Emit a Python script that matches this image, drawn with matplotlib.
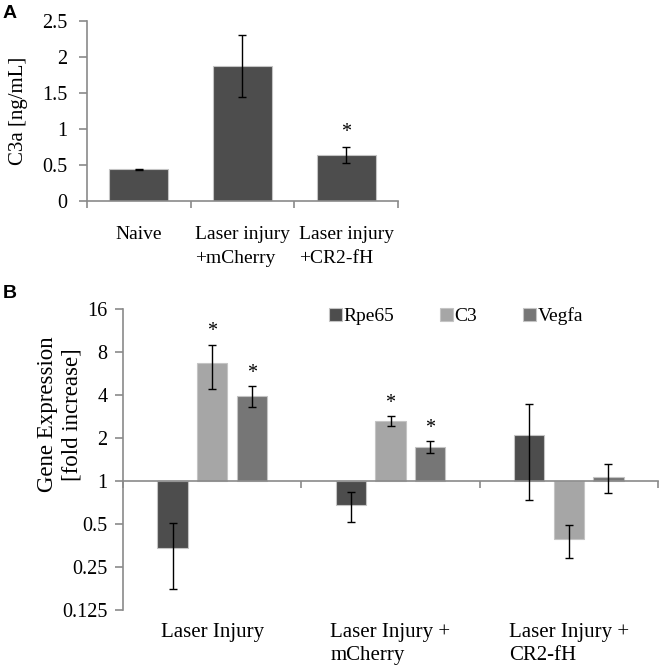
import numpy as np
import matplotlib
matplotlib.use("Agg")
import matplotlib.pyplot as plt
from matplotlib.transforms import blended_transform_factory

plt.rcParams['font.family'] = 'serif'
plt.rcParams['font.serif'] = ['Liberation Serif', 'DejaVu Serif']

# Panel A: C3a levels
groups_a = ['Naive', 'Laser injury\n+mCherry', 'Laser injury\n+CR2-fH']
c3a = [0.44, 1.88, 0.64]
c3a_err = [0.01, 0.43, 0.11]
sig_a = [False, False, True]

# Panel B: gene expression (fold increase)
groups_b = ['Laser Injury', 'Laser Injury +\nmCherry', 'Laser Injury +\nCR2-fH']
genes = ['Rpe65', 'C3', 'Vegfa']
rpe65 = [0.34, 0.68, 2.09]
rpe65_err = [0.165, 0.16, 1.35]
c3 = [6.7, 2.62, 0.39]
c3_err = [2.3, 0.21, 0.10]
vegfa = [3.95, 1.74, 1.07]
vegfa_err = [0.65, 0.16, 0.25]
sig_rpe65 = [False, False, False]
sig_c3 = [True, True, False]
sig_vegfa = [True, True, False]
yticks_b = [0.125, 0.25, 0.5, 1, 2, 4, 8, 16]

colors = {'Rpe65': '#4d4d4d', 'C3': '#a6a6a6', 'Vegfa': '#767676'}
spine_col = '#8a8a8a'
edge_col = '#c4c4c4'

fig = plt.figure(figsize=(6.6, 6.69), dpi=100)

# ---------- Panel A ----------
axA = fig.add_axes([87 / 660, 1 - 201 / 669, 311 / 660, 180 / 669])
xa = np.arange(len(groups_a))
axA.bar(xa, c3a, width=0.57, color='#4d4d4d', edgecolor=edge_col, linewidth=0.8, zorder=2)
axA.errorbar(xa, c3a, yerr=c3a_err, fmt='none', ecolor='black', elinewidth=1,
             capsize=3, capthick=1, zorder=3)
for x, v, e, s in zip(xa, c3a, c3a_err, sig_a):
    if s:
        axA.annotate('*', (x, v + e), xytext=(0, 7), textcoords='offset points',
                     ha='center', va='baseline', fontsize=14.5)
axA.set_xlim(-0.5, len(groups_a) - 0.5)
axA.set_ylim(0, 2.5)
axA.set_yticks([0, 0.5, 1, 1.5, 2, 2.5])
axA.set_yticklabels(['0', '0.5', '1', '1.5', '2', '2.5'])
axA.set_xticks(np.arange(len(groups_a) + 1) - 0.5)
axA.set_xticklabels([])
for sp in ['top', 'right']:
    axA.spines[sp].set_visible(False)
for sp in ['left', 'bottom']:
    axA.spines[sp].set_color(spine_col)
    axA.spines[sp].set_linewidth(1.2)
axA.tick_params(axis='y', direction='out', length=6, width=1.2, color=spine_col,
                labelsize=14.5, pad=8)
axA.tick_params(axis='x', direction='out', length=5, width=1.2, color=spine_col)
trA = blended_transform_factory(axA.transData, axA.transAxes)
for x, g in zip(xa, groups_a):
    axA.text(x, -0.14, g, transform=trA, ha='center', va='top', multialignment='left',
             fontsize=14, linespacing=1.5)
axA.set_ylabel('C3a [ng/mL]', fontsize=15)
axA.yaxis.set_label_coords(-0.19, 0.5)

fig.text(3 / 660, 1 - 5 / 669, 'A', family=['Liberation Sans', 'DejaVu Sans'],
         fontweight='bold', fontsize=14, ha='left', va='top')

# ---------- Panel B ----------
axB = fig.add_axes([123 / 660, 1 - 610 / 669, 535 / 660, 301 / 669])
axB.set_yscale('log', base=2)
xb = np.arange(len(groups_b))
w = 0.17
off = 0.222
series = [('Rpe65', rpe65, rpe65_err, sig_rpe65),
          ('C3', c3, c3_err, sig_c3),
          ('Vegfa', vegfa, vegfa_err, sig_vegfa)]
for i, (name, vals, errs, sigs) in enumerate(series):
    pos = xb + (i - 1) * off
    vals = np.array(vals)
    axB.bar(pos, vals - 1, bottom=1, width=w, color=colors[name], edgecolor=edge_col,
            linewidth=0.8, label=name, zorder=2)
    axB.errorbar(pos, vals, yerr=errs, fmt='none', ecolor='black', elinewidth=1,
                 capsize=3, capthick=1, zorder=3)
    for x, v, e, s in zip(pos, vals, errs, sigs):
        if s:
            axB.annotate('*', (x, v + e), xytext=(0, 6), textcoords='offset points',
                         ha='center', va='baseline', fontsize=14.5)

axB.set_xlim(-0.5, len(groups_b) - 0.5)
axB.set_ylim(0.125, 16)
axB.set_yticks(yticks_b)
axB.set_yticklabels([str(t) if t < 1 else str(int(t)) for t in yticks_b])
axB.yaxis.set_minor_locator(matplotlib.ticker.NullLocator())
axB.set_xticks(np.arange(len(groups_b) + 1) - 0.5)
axB.set_xticklabels([])
axB.spines['bottom'].set_position(('data', 1))
for sp in ['top', 'right']:
    axB.spines[sp].set_visible(False)
for sp in ['left', 'bottom']:
    axB.spines[sp].set_color(spine_col)
    axB.spines[sp].set_linewidth(1.2)
axB.tick_params(axis='y', direction='out', length=6, width=1.2, color=spine_col,
                labelsize=14.5, pad=5)
axB.tick_params(axis='x', direction='out', length=5, width=1.2, color=spine_col)
trB = blended_transform_factory(axB.transData, axB.transAxes)
for x, g in zip(xb, groups_b):
    axB.text(x, -0.043, g, transform=trB, ha='center', va='top', multialignment='left',
             fontsize=15, linespacing=1.3)
axB.set_ylabel('Gene Expression\n[fold increase]', fontsize=16.5, linespacing=1.2)
axB.yaxis.set_label_coords(-0.076, 0.65)

axB.legend(loc='center left', bbox_to_anchor=(0.385, 0.977), ncol=3, frameon=False,
           fontsize=14, handlelength=0.65, handleheight=0.65, handletextpad=0.1,
           columnspacing=2.35, borderpad=0, borderaxespad=0)

fig.text(3 / 660, 1 - 285 / 669, 'B', family=['Liberation Sans', 'DejaVu Sans'],
         fontweight='bold', fontsize=14, ha='left', va='top')

fig.savefig('out.png', dpi=100)
